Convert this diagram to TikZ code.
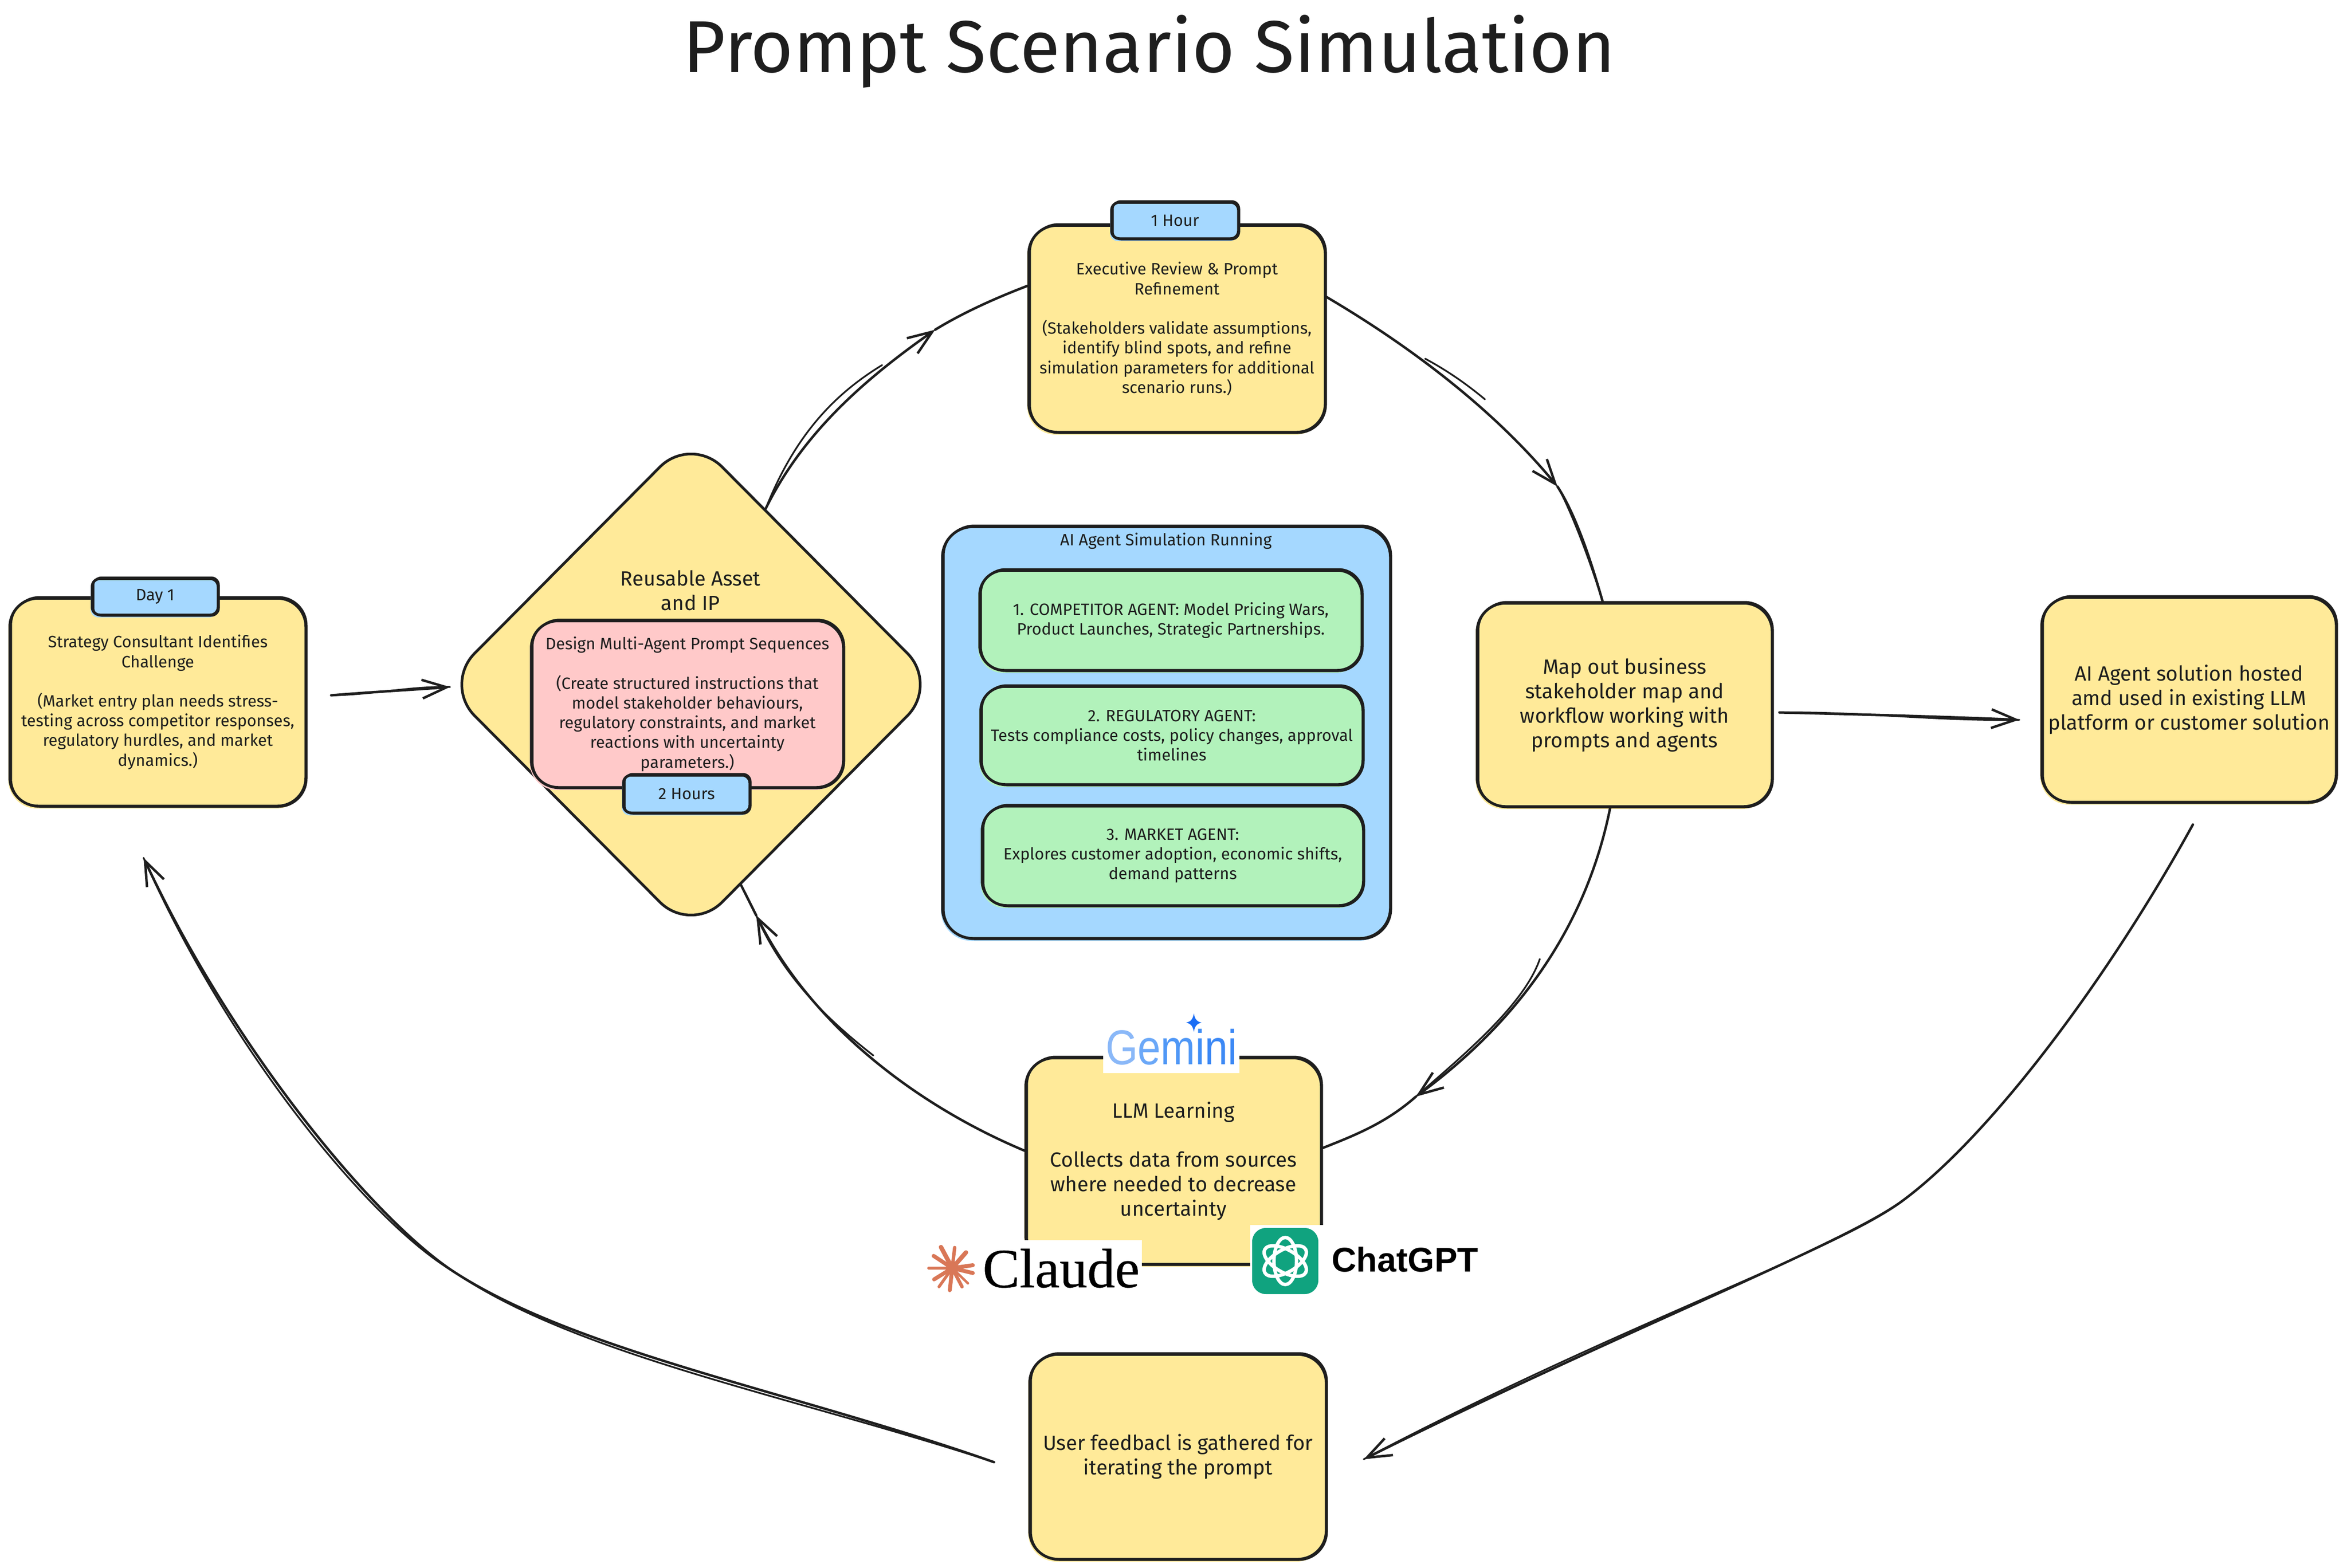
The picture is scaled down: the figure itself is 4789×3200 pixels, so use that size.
\documentclass[tikz,border=0pt]{standalone}
\usepackage{fontspec}
\setmainfont{Fira Sans}
\newfontfamily\logosans{Liberation Sans}
\newfontfamily\logoserif[FakeBold=0.5]{Liberation Serif}
\usetikzlibrary{arrows.meta,shapes.geometric}
\definecolor{ink}{HTML}{1E1E1E}
\definecolor{sand}{HTML}{FFEA99}
\definecolor{sky}{HTML}{A5D8FF}
\definecolor{rose}{HTML}{FFC9C9}
\definecolor{mint}{HTML}{B2F2BB}
\definecolor{clay}{HTML}{D97757}
\definecolor{gptgreen}{HTML}{10A37F}
\definecolor{gemstar}{HTML}{1A6DF5}
\tikzset{
  box/.style={draw=ink,line width=5.5pt,inner sep=0pt,align=center,text=ink},
  skline/.style={draw=ink,line width=3pt},
  fsmall/.style={font=\fontsize{33.5}{40.3}\selectfont},
  fbig/.style={font=\fontsize{42}{50}\selectfont},
  conn/.style={draw=ink,line width=5pt,line cap=round},
  conn2/.style={draw=ink,line width=3.5pt,line cap=round},
  >={Straight Barb[length=50pt,width=38pt,line width=5pt]}
}
\newcommand{\skbox}[9]{%
  \pgfmathsetmacro\skX{(#2+#4)/2}%
  \pgfmathsetmacro\skY{(#3+#5)/2}%
  \pgfmathsetmacro\skW{#4-#2}%
  \pgfmathsetmacro\skH{#5-#3}%
  \fill[#7,rounded corners=#6pt] (#2-3,#3+3) rectangle (#4-2,#5+5);
  \node[box,#8,fill=#7,rounded corners=#6pt,minimum width=\skW pt,minimum height=\skH pt] (#1) at (\skX,\skY) {#9};
  \draw[skline,rounded corners=#6pt] (#2+3,#3-3) rectangle (#4+2,#5+2);
}
\begin{document}
\begin{tikzpicture}[x=1pt,y=-1pt]
\useasboundingbox (0,0) rectangle (4789,3200);
\fill[white] (0,0) rectangle (4789,3200);

% title
\node[text=ink,inner sep=0pt,font=\fontsize{150}{170}\selectfont,anchor=base] (title) at (2345,148) {Prompt Scenario Simulation};

% boxes
\skbox{day}{20}{1221}{624}{1645}{58}{sand}{fsmall}{Strategy Consultant Identifies\\Challenge\\[40pt](Market entry plan needs stress-\\testing across competitor responses,\\regulatory hurdles, and market\\dynamics.)}
\skbox{daytag}{188}{1181}{445}{1255}{16}{sky}{fsmall}{Day 1}

\node[box,diamond,aspect=1,fill=sand,rounded corners=90pt,minimum width=1012pt,minimum height=1018pt] (dia) at (1410,1397) {};
\node[text=ink,align=center,inner sep=0pt,fbig] (reuse) at (1409,1205) {Reusable Asset\\and IP};
\skbox{pink}{1084}{1267}{1721}{1607}{55}{rose}{fsmall}{Design Multi-Agent Prompt Sequences\\[40pt](Create structured instructions that\\model stakeholder behaviours,\\regulatory constraints, and market\\reactions with uncertainty\\parameters.)}
\skbox{hours}{1272}{1582}{1530}{1659}{16}{sky}{fsmall}{2 Hours}

\skbox{exec}{2099}{460}{2704}{882}{58}{sand}{fsmall}{Executive Review \& Prompt\\Refinement\\[40pt](Stakeholders validate assumptions,\\identify blind spots, and refine\\simulation parameters for additional\\scenario runs.)}
\skbox{hour}{2268}{413}{2527}{487}{16}{sky}{fsmall}{1 Hour}

\skbox{panel}{1923}{1075}{2837}{1915}{62}{sky}{fsmall}{}
\node[text=ink,inner sep=0pt,fsmall] (paneltitle) at (2379,1104) {AI Agent Simulation Running};
\skbox{ga}{1999}{1164}{2779}{1368}{50}{mint}{fsmall}{1. COMPETITOR AGENT: Model Pricing Wars,\\Product Launches, Strategic Partnerships.}
\skbox{gb}{2001}{1401}{2781}{1601}{50}{mint}{fsmall}{2. REGULATORY AGENT:\\Tests compliance costs, policy changes, approval\\timelines}
\skbox{gc}{2004}{1645}{2782}{1848}{50}{mint}{fsmall}{3. MARKET AGENT:\\Explores customer adoption, economic shifts,\\demand patterns}

\skbox{map}{3014}{1231}{3616}{1646}{58}{sand}{fbig}{Map out business\\stakeholder map and\\workflow working with\\prompts and agents}
\skbox{ai}{4166}{1219}{4767}{1637}{58}{sand}{fbig}{AI Agent solution hosted\\amd used in existing LLM\\platform or customer solution}
\skbox{llm}{2093}{2159}{2696}{2580}{58}{sand}{fbig}{LLM Learning\\[50pt]Collects data from sources\\where needed to decrease\\uncertainty}
\skbox{fb}{2101}{2764}{2706}{3182}{58}{sand}{fbig}{User feedbacl is gathered for\\iterating the prompt}

% Gemini logo
\fill[white] (2251,2060) rectangle (2529,2190);
\node[inner sep=0pt,anchor=base,font=\fontsize{100}{100}\logosans] (gemini) at (2390,2172) {\scalebox{0.845}[1]{\textcolor[HTML]{8AB8F8}{G}\textcolor[HTML]{6BA8F8}{e}\textcolor[HTML]{4F97F6}{m}\textcolor[HTML]{3F8DF5}{i}\textcolor[HTML]{3B88F5}{n}\textcolor[HTML]{3B88F5}{i}}};
\fill[gemstar] (2436,2068) .. controls (2438,2080) and (2442,2085) .. (2452,2087) .. controls (2442,2089) and (2438,2094) .. (2436,2106) .. controls (2434,2094) and (2430,2089) .. (2420,2087) .. controls (2430,2085) and (2434,2080) .. (2436,2068) -- cycle;

% Claude logo
\fill[white] (1892,2531) rectangle (2330,2655);
\foreach \dx/\dy/\w in {-23/-43/9, 5/-42/7, 28/-32/9, 42/-6/8, 42/10/8, 32/31/5, 20/38/7, -5/45/8, -27/38/6, -37/23/8, -48/0/6, -38/-25/8}{
  \draw[clay,line width=\w pt,line cap=round] (1943,2588) -- ++(\dx,\dy);
}
\fill[clay] (1943,2588) circle (13);
\node[text=black,inner sep=0pt,anchor=base west,font=\fontsize{113}{113}\logoserif] (claude) at (2005,2627) {Claude};

% ChatGPT logo
\fill[white] (2551,2500) rectangle (3022,2645);
\node[fill=gptgreen,rounded corners=28pt,minimum width=135pt,minimum height=135pt,inner sep=0pt] (gpticon) at (2622.5,2573.5) {};
\foreach \r in {30,90,150}{
  \draw[white,line width=7pt,rotate around={\r:(2622.5,2573.5)}] (2622.5,2573.5) ellipse (48 and 23);
}
\node[text=black,inner sep=0pt,anchor=base west,font=\fontsize{70}{70}\logosans\bfseries] (chatgpt) at (2717,2595) {ChatGPT};

% connectors
\coordinate (m2) at (1908,673);
\coordinate (m3) at (3178,993);
\coordinate (m4) at (2889,2238);
\coordinate (m5) at (1543,1868);
\coordinate (m7) at (3880,2452);
\coordinate (m8) at (927,2596);

\draw[conn,->] ([shift={(49,-14)}]day.east) .. controls (760,1412) and (840,1408) .. ([shift={(17,5)}]dia.west);
\draw[conn2] ([shift={(49,-14)}]day.east) .. controls (760,1418) and (840,1400) .. ([shift={(17,5)}]dia.west);

\draw[conn,->] (dia.67.6) .. controls (1640,880) and (1770,770) .. (m2);
\draw[conn2] (dia.67.6) .. controls (1625,880) and (1710,800) .. (1800,745);
\draw[conn] (m2) .. controls (1970,635) and (2040,605) .. (exec.164.6);

\draw[conn,->] (exec.12.1) .. controls (2900,720) and (3060,850) .. (m3);
\draw[conn2] (2908,732) .. controls (2960,760) and (3000,790) .. (3030,815);
\draw[conn] (m3) .. controls (3215,1050) and (3245,1140) .. (map.102.8);
\draw[conn2] (m3) .. controls (3200,1030) and (3240,1130) .. (map.102.8);

\draw[conn,->] (map.262) .. controls (3235,1900) and (3090,2090) .. (m4);
\draw[conn2] (3142,1957) .. controls (3110,2050) and (2990,2150) .. (m4);
\draw[conn] (m4) .. controls (2830,2290) and (2770,2315) .. (llm.5.2);

\draw[conn,->] (llm.176.3) .. controls (1880,2260) and (1660,2100) .. (m5);
\draw[conn2] (1782,2154) .. controls (1700,2090) and (1600,2000) .. (m5);
\draw[conn] (m5) -- (dia.284.1);

\draw[conn,->] ([shift={(12,15.5)}]map.east) .. controls (3800,1458) and (3950,1462) .. ([shift={(-43,41)}]ai.west);
\draw[conn2] ([shift={(12,15.5)}]map.east) .. controls (3800,1452) and (3950,1472) .. ([shift={(-43,41)}]ai.west);

\draw[conn] ([shift={(8,43)}]ai.south) .. controls (4300,2000) and (4060,2320) .. (m7);
\draw[conn,->] (m7) .. controls (3760,2540) and (3300,2720) .. ([shift={(74,5)}]fb.east);
\draw[conn2] (m7) .. controls (3750,2552) and (3300,2705) .. ([shift={(74,5)}]fb.east);

\draw[conn] ([shift={(-70,11)}]fb.west) .. controls (1620,2840) and (1180,2760) .. (m8);
\draw[conn2] ([shift={(-70,11)}]fb.west) .. controls (1620,2850) and (1180,2768) .. (m8);
\draw[conn,->] (m8) .. controls (770,2494) and (480,2150) .. ([shift={(-29,103)}]day.south);
\draw[conn2] (m8) .. controls (762,2500) and (470,2150) .. ([shift={(-29,103)}]day.south);
\end{tikzpicture}
\end{document}
